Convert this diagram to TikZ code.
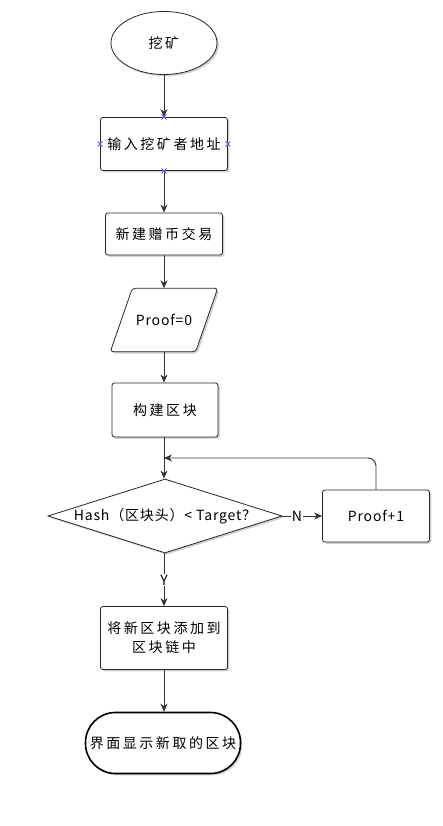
\documentclass[tikz,border=0pt]{standalone}
\usepackage{fontspec}
\setmainfont{Noto Sans CJK SC}
\newfontfamily\cjk[LetterSpace=18]{Noto Sans CJK SC}
\newfontfamily\lat[LetterSpace=6]{Noto Sans CJK SC}
\usetikzlibrary{shapes.geometric,arrows.meta,shadows}
\begin{document}
\begin{tikzpicture}[x=1pt,y=-1pt,
  font=\fontsize{14}{17}\selectfont,
  shd/.style={drop shadow={shadow xshift=1.8pt,shadow yshift=-1.8pt,fill=black!30,opacity=0.6}},
  procbox/.style={draw=black!85,line width=0.8pt,fill=white,rounded corners=2.5pt,shd,align=center,inner sep=0pt},
  ctext/.style={font=\cjk\fontsize{14}{19}\selectfont},
  ltext/.style={font=\lat\fontsize{14}{17}\selectfont},
  conn/.style={draw=black!80,line width=0.9pt},
  arr/.style={conn,-{Stealth[length=8pt,width=7pt,inset=2.5pt]}},
  lbl/.style={inner sep=1pt,fill=white,ltext},
  handle/.style={draw=blue!60,line width=0.9pt}
]
\useasboundingbox (0,0) rectangle (442,826);

\node[ellipse,draw=black!85,line width=0.8pt,fill=white,shd,minimum width=106pt,minimum height=63pt,inner sep=0pt,ctext] (start) at (164,43) {挖矿};

\node[procbox,minimum width=127pt,minimum height=53pt,ctext] (addr) at (164,144) {输入挖矿者地址};

\node[procbox,minimum width=117pt,minimum height=42pt,ctext] (tx) at (164,234) {新建赠币交易};

\node[minimum width=107pt,minimum height=63pt,inner sep=0pt] (p0) at (164,320) {};
\fill[black!30,opacity=0.6,rounded corners=3pt] ([shift={(23.8,1.8)}]p0.north west) -- ([shift={(1.8,1.8)}]p0.north east) -- ([shift={(-20.2,1.8)}]p0.south east) -- ([shift={(1.8,1.8)}]p0.south west) -- cycle;
\draw[draw=black!85,line width=0.8pt,fill=white,rounded corners=3pt] ([xshift=22pt]p0.north west) -- (p0.north east) -- ([xshift=-22pt]p0.south east) -- (p0.south west) -- cycle;
\node[ltext] at (p0.center) {Proof=0};

\node[procbox,minimum width=106pt,minimum height=54pt,ctext] (build) at (165,410) {构建区块};

\node[diamond,draw=black!85,line width=0.8pt,fill=white,shd,aspect=3.16,minimum width=234pt,minimum height=74pt,inner sep=0pt,ltext] (dia) at (165,516) {Hash（区块头）< Target？};

\node[procbox,minimum width=107pt,minimum height=52pt,ltext] (pp) at (376,516) {Proof+1};

\node[procbox,minimum width=127pt,minimum height=63pt,ctext] (add) at (164,638) {将新区块添加到\\区块链中};

\node[draw=black,line width=1.6pt,fill=white,shd,rounded corners=30pt,minimum width=155pt,minimum height=61pt,inner sep=0pt,ctext] (show) at (163,743) {界面显示新取的区块};

\coordinate (join) at (164,458);
\node[lbl] (N) at (297,516) {N};
\node[lbl] (Y) at (164,580) {Y};

\draw[arr] (start.south) -- (addr.north);
\draw[arr] (addr.south) -- (tx.north);
\draw[arr] (tx.south) -- (p0.south |- p0.north);
\draw[arr] (p0.south) -- (build.north -| p0.south);
\draw[arr] (build.south -| join) -- (dia.north -| join);
\draw[arr,rounded corners=8pt] (pp.north) |- (join);
\draw[conn] (dia.east) -- (N.west);
\draw[arr] (N.east) -- (pp.west);
\draw[conn] (dia.south -| Y) -- (Y.north);
\draw[arr] (Y.south) -- (add.north -| Y);
\draw[arr] (add.south) -- (show.north -| add.south);

% selection handles
\foreach \a in {north,south,east,west}{
  \draw[handle] ([shift={(-2.5,-2.5)}]addr.\a) -- ([shift={(2.5,2.5)}]addr.\a)
                ([shift={(-2.5,2.5)}]addr.\a) -- ([shift={(2.5,-2.5)}]addr.\a);
}
\end{tikzpicture}
\end{document}
